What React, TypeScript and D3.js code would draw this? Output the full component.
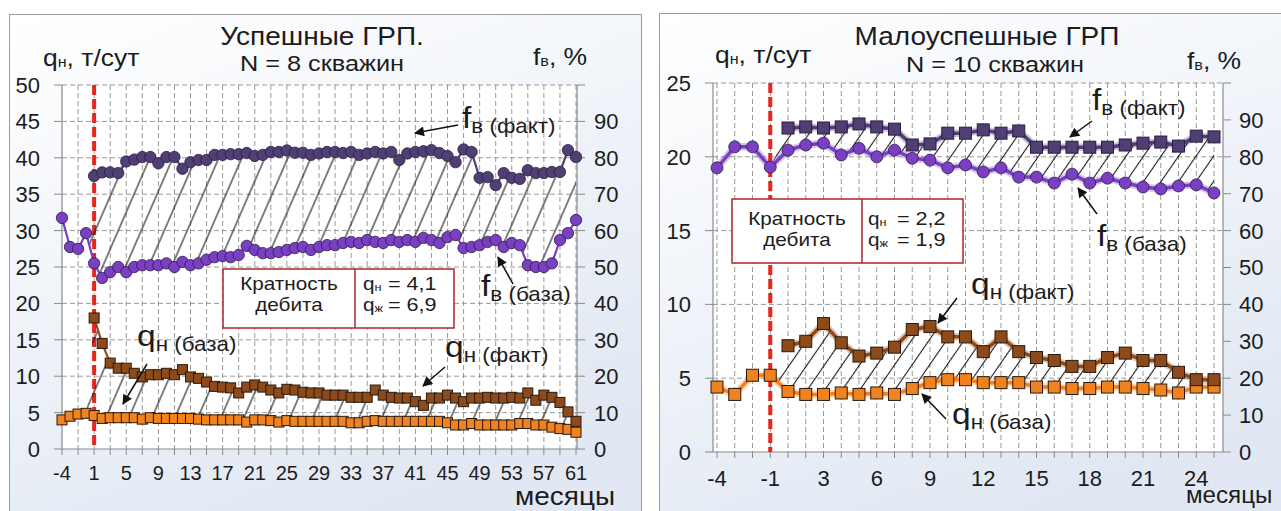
import React from "react";
import * as d3 from "d3";

const FONT = "Arial, 'Liberation Sans', sans-serif";

// ---------- Left chart: "Успешные ГРП." ----------
const L_MONTHS = [-4, -3, -2, -1, 1, 2, 3, 4, 5, 6, 7, 8, 9, 10, 11, 12, 13, 14, 15, 16, 17, 18, 19, 20, 21, 22, 23, 24, 25, 26, 27, 28, 29, 30, 31, 32, 33, 34, 35, 36, 37, 38, 39, 40, 41, 42, 43, 44, 45, 46, 47, 48, 49, 50, 51, 52, 53, 54, 55, 56, 57, 58, 59, 60, 61];
const L_TICKS = [-4, 1, 5, 9, 13, 17, 21, 25, 29, 33, 37, 41, 45, 49, 53, 57, 61];
const L_Y_LEFT = [0, 5, 10, 15, 20, 25, 30, 35, 40, 45, 50];
const L_Y_RIGHT = [0, 10, 20, 30, 40, 50, 60, 70, 80, 90];
const L_Q_BASE = [
  4.0, 4.5, 4.8, 4.9, 4.6, 4.2, 4.3, 4.3, 4.3, 4.3,
  4.1, 4.3, 4.2, 4.2, 4.2, 4.2, 4.2, 4.1, 4.0, 4.0,
  4.0, 4.0, 4.0, 3.7, 4.0, 4.0, 3.9, 3.7, 3.9, 3.8,
  3.8, 3.8, 3.8, 3.8, 3.8, 3.8, 3.6, 3.6, 3.8, 3.9,
  3.8, 3.8, 3.8, 3.8, 3.8, 3.8, 3.8, 3.8, 3.6, 3.3,
  3.3, 3.5, 3.3, 3.3, 3.3, 3.3, 3.3, 3.5, 3.5, 3.3,
  3.3, 3.0, 2.8, 2.7, 2.3,
];
const L_Q_FACT = [
  null, null, null, null,
  18.0, 14.5, 11.8, 11.1, 11.1, 10.4, 9.9, 10.2, 10.2, 10.4,
  10.2, 10.9, 9.9, 9.7, 9.2, 8.6, 8.5, 8.4, 7.7, 8.5,
  8.8, 8.5, 8.1, 7.7, 8.2, 8.1, 7.8, 7.7, 7.7, 7.4,
  7.4, 7.4, 7.1, 7.1, 7.1, 8.1, 7.4, 7.1, 7.0, 7.0,
  6.5, 6.0, 7.0, 7.0, 7.4, 7.0, 6.5, 7.0, 7.0, 7.1,
  7.0, 7.0, 7.1, 7.0, 7.7, 6.7, 7.4, 7.1, 6.4, 5.1, 3.8,
];
const L_F_BASE = [
  63.5, 55.5, 55, 59.3, 51, 47, 48.6, 50, 48.6, 50,
  50.5, 50.5, 50.5, 51, 50, 51.4, 50.5, 51, 52, 52.7,
  53, 52.7, 53.3, 55.8, 54.7, 53.8, 53.8, 54.1, 54.7, 55.2,
  55.5, 54.7, 55.5, 56, 56, 56.6, 56.9, 56.6, 57.4, 56.9,
  56.6, 57.4, 56.9, 57.4, 56.9, 58, 57.4, 56.6, 58.2, 58.8,
  55.2, 55.5, 56, 56.9, 57.4, 55.5, 56.6, 56, 50.5, 50,
  50, 51, 57.4, 59.3, 62.9,
];
const L_F_FACT = [
  null, null, null, null,
  75, 76, 76, 75.8, 79, 79.5, 80.2, 80.2, 78.5, 80.2,
  80.2, 77, 78.8, 79.4, 79.4, 80.8, 80.8, 81, 81, 81.3,
  80.5, 80.8, 81.6, 81.6, 82, 81.4, 81.4, 80.8, 81.2, 81.6,
  81.6, 81.3, 81.6, 80.8, 81.2, 81.6, 81.2, 81.6, 79.4, 81.2,
  81.6, 81.8, 82.1, 81.3, 80.5, 78.8, 82.3, 81.6, 74.5, 74.7,
  72.5, 75.8, 74.5, 74.2, 76.6, 75.8, 75.8, 76.1, 76.1, 82.1, 80.2,
];

// ---------- Right chart: "Малоуспешные ГРП" ----------
const R_MONTHS = [-4, -3, -2, -1, 1, 2, 3, 4, 5, 6, 7, 8, 9, 10, 11, 12, 13, 14, 15, 16, 17, 18, 19, 20, 21, 22, 23, 24, 25];
const R_TICKS = [-4, -1, 3, 6, 9, 12, 15, 18, 21, 24];
const R_Y_LEFT = [0, 5, 10, 15, 20, 25];
const R_Y_RIGHT = [0, 10, 20, 30, 40, 50, 60, 70, 80, 90];
const R_Q_BASE = [
  4.4, 3.9, 5.2, 5.2, 4.1, 3.9, 3.9, 4.0, 3.9, 4.0,
  3.9, 4.3, 4.7, 4.9, 4.9, 4.7, 4.7, 4.7, 4.4, 4.4,
  4.3, 4.3, 4.4, 4.4, 4.3, 4.2, 4.0, 4.4, 4.4,
];
const R_Q_FACT = [
  null, null, null, null,
  7.2, 7.5, 8.7, 7.4, 6.5, 6.7, 7.1, 8.3, 8.5, 7.8,
  7.8, 6.8, 7.8, 6.8, 6.4, 6.2, 5.8, 5.8, 6.4, 6.7,
  6.2, 6.2, 5.4, 4.9, 4.9,
];
const R_F_BASE = [
  77, 82.7, 82.7, 77.2, 81.8, 83.2, 83.7, 80.5, 82.3, 80,
  81.8, 79.6, 79.1, 77, 77.8, 75.9, 77, 74.5, 74.5, 72.9,
  75.3, 72.9, 74.2, 72.9, 71.8, 71.3, 72.1, 72.4, 70.2,
];
const R_F_FACT = [
  null, null, null, null,
  87.8, 88.1, 87.8, 88.1, 88.9, 88.1, 87.5, 83.2, 83.5, 86.4,
  86.4, 87.3, 86.4, 87, 82.6, 82.6, 82.6, 82.6, 82.6, 83.2,
  83.7, 84, 82.9, 85.6, 85.4,
];

const C = {
  qBase: "#f0831f",
  qFact: "#8d4a1b",
  fBase: "#7a3fc3",
  fFact: "#4f3f73",
  qStroke: "#2a1a0c",
  fStroke: "#2a1d46",
  grid: "#8f8f8f",
  axis: "#8a8a8a",
  red: "#e8241c",
  text: "#1c1c1c",
  box: "#a8292e",
};

type Num = number | null;

function T(props: {
  x: number; y: number; size: number; sx?: number; anchor?: string; children: any; fill?: string;
}) {
  const { x, y, size, sx = 1, anchor = "start", children, fill = C.text } = props;
  return (
    <text
      transform={`translate(${x},${y}) scale(${sx},1)`}
      fontFamily={FONT}
      fontSize={size}
      textAnchor={anchor as any}
      fill={fill}
    >
      {children}
    </text>
  );
}

function SubLabel(props: { x: number; y: number; big: string; sub: string; bigSize?: number; subSize?: number; dy?: number; sx?: number }) {
  const { x, y, big, sub, bigSize = 30, subSize = 20, dy = 5, sx = 1.12 } = props;
  return (
    <T x={x} y={y} size={bigSize} sx={sx}>
      {big}
      <tspan fontSize={subSize} dy={dy}>{sub}</tspan>
    </T>
  );
}

function Arrow(props: { x1: number; y1: number; x2: number; y2: number }) {
  const { x1, y1, x2, y2 } = props;
  return <line x1={x1} y1={y1} x2={x2} y2={y2} stroke="#111" strokeWidth={1.5} markerEnd="url(#arr)" />;
}

type Cfg = {
  id: string;
  plot: { l: number; r: number; t: number; b: number };
  xr: [number, number];
  months: number[];
  ticks: number[];
  gridStep: number;
  yLMax: number;
  yLTicks: number[];
  yRTicks: number[];
  redMonth: number;
  qBase: Num[];
  qFact: Num[];
  fBase: Num[];
  fFact: Num[];
  hatchH: number;
  hatchSlope: number;
  lw: number;
  sq: number;
  cr: number;
  fFactShape: "circle" | "square";
  glow: boolean;
  yLabelX: number;
  yRLabelX: number;
  xLabelY: number;
  xLabelSize: number;
  yLabelSize: number;
};

function Chart({ cfg }: { cfg: Cfg }) {
  const n = cfg.months.length;
  const idx = d3.range(n);
  const x = d3.scalePoint<number>().domain(idx).range(cfg.xr);
  const yL = d3.scaleLinear().domain([0, cfg.yLMax]).range([cfg.plot.b, cfg.plot.t]);
  const yR = d3.scaleLinear().domain([0, 100]).range([cfg.plot.b, cfg.plot.t]);
  const { l, r, t, b } = cfg.plot;

  const start = cfg.fFact.findIndex((v) => v != null) - 1;
  const aIdx = idx.filter((i) => i >= start);
  const areaF = d3
    .area<number>()
    .x((i) => x(i)!)
    .y0((i) => yR(cfg.fBase[i] as number))
    .y1((i) => yR((cfg.fFact[i] ?? cfg.fBase[i]) as number));
  const qStart = cfg.qFact.findIndex((v) => v != null) - 1;
  const qIdx = idx.filter((i) => i >= qStart);
  const areaQ = d3
    .area<number>()
    .x((i) => x(i)!)
    .y0((i) => yL(cfg.qBase[i] as number))
    .y1((i) => yL((cfg.qFact[i] ?? cfg.qBase[i]) as number));

  const mkLine = (arr: Num[], sc: d3.ScaleLinear<number, number>) =>
    d3
      .line<number>()
      .defined((i) => arr[i] != null)
      .x((i) => x(i)!)
      .y((i) => sc(arr[i] as number))(idx) || "";

  const phi = (Math.atan(1 / cfg.hatchSlope) * 180) / Math.PI;
  const dPer = (cfg.hatchH * cfg.hatchSlope) / Math.sqrt(1 + cfg.hatchSlope * cfg.hatchSlope);
  const hatchId = `hatch-${cfg.id}`;

  const vGrid = idx.filter((i) => i % cfg.gridStep === 0);
  const redI = cfg.months.indexOf(cfg.redMonth);

  const series = [
    { arr: cfg.qBase, sc: yL, color: C.qBase, stroke: C.qStroke, shape: "square" },
    { arr: cfg.qFact, sc: yL, color: C.qFact, stroke: C.qStroke, shape: "square" },
    { arr: cfg.fBase, sc: yR, color: C.fBase, stroke: C.fStroke, shape: "circle" },
    { arr: cfg.fFact, sc: yR, color: C.fFact, stroke: C.fStroke, shape: cfg.fFactShape },
  ];

  return (
    <g>
      <defs>
        <pattern
          id={hatchId}
          patternUnits="userSpaceOnUse"
          width={dPer}
          height={20}
          patternTransform={`rotate(${phi})`}
        >
          <line x1={dPer / 2} y1={-2} x2={dPer / 2} y2={22} stroke="#1a1a1a" strokeWidth={1.1} />
        </pattern>
      </defs>
      <rect x={l} y={t} width={r - l} height={b - t} fill="#ffffff" />
      {/* horizontal grid */}
      {cfg.yLTicks.filter((v) => v > 0).map((v) => (
        <line key={`hg${v}`} x1={l} x2={r} y1={yL(v)} y2={yL(v)} stroke={C.grid} strokeWidth={0.9} strokeDasharray="5 3" />
      ))}
      {/* vertical grid */}
      {vGrid.map((i) =>
        Math.abs(x(i)! - l) < 2 ? null : (
          <line key={`vg${i}`} x1={x(i)} x2={x(i)} y1={t} y2={b} stroke={C.grid} strokeWidth={0.9} strokeDasharray="5 3" />
        )
      )}
      {/* axes */}
      <line x1={l} x2={l} y1={t} y2={b} stroke={C.axis} strokeWidth={1.2} />
      <line x1={r} x2={r} y1={t} y2={b} stroke={C.axis} strokeWidth={1.2} />
      <line x1={l} x2={r} y1={b} y2={b} stroke={C.axis} strokeWidth={1.2} />
      {cfg.yLTicks.map((v) => (
        <line key={`lt${v}`} x1={l - 8} x2={l} y1={yL(v)} y2={yL(v)} stroke={C.axis} strokeWidth={1} />
      ))}
      {[...cfg.yRTicks, 100].map((v) => (
        <line key={`rt${v}`} x1={r} x2={r + 8} y1={yR(v)} y2={yR(v)} stroke={C.axis} strokeWidth={1} />
      ))}
      {vGrid.map((i) => (
        <line key={`xt${i}`} x1={x(i)} x2={x(i)} y1={b} y2={b + 6} stroke={C.axis} strokeWidth={1} />
      ))}
      {/* tick labels */}
      {cfg.yLTicks.map((v) => (
        <T key={`ll${v}`} x={cfg.yLabelX} y={yL(v) + cfg.yLabelSize * 0.36} size={cfg.yLabelSize} anchor="end">
          {v}
        </T>
      ))}
      {cfg.yRTicks.map((v) => (
        <T key={`rl${v}`} x={cfg.yRLabelX} y={yR(v) + cfg.yLabelSize * 0.36} size={cfg.yLabelSize}>
          {v}
        </T>
      ))}
      {cfg.ticks.map((m) => (
        <T key={`xl${m}`} x={x(cfg.months.indexOf(m))!} y={cfg.xLabelY} size={cfg.xLabelSize} anchor="middle">
          {m}
        </T>
      ))}
      {/* red line */}
      <line x1={x(redI)} x2={x(redI)} y1={t} y2={b} stroke={C.red} strokeWidth={4} strokeDasharray="10 4" />
      {/* hatched areas */}
      <path d={areaQ(qIdx) || ""} fill={`url(#${hatchId})`} />
      <path d={areaF(aIdx) || ""} fill={`url(#${hatchId})`} />
      {/* series */}
      {series.map((s, k) => {
        const d = mkLine(s.arr, s.sc);
        return (
          <g key={`s${k}`}>
            {cfg.glow && <path d={d} fill="none" stroke={s.color} strokeWidth={cfg.lw + 4} strokeOpacity={0.3} strokeLinejoin="round" />}
            <path d={d} fill="none" stroke={s.color} strokeWidth={cfg.lw} strokeLinejoin="round" />
            {idx
              .filter((i) => s.arr[i] != null)
              .map((i) => {
                const px = x(i)!;
                const py = s.sc(s.arr[i] as number);
                return s.shape === "square" ? (
                  <rect key={i} x={px - cfg.sq / 2} y={py - cfg.sq / 2} width={cfg.sq} height={cfg.sq} fill={s.color} stroke={s.stroke} strokeWidth={1} />
                ) : (
                  <circle key={i} cx={px} cy={py} r={cfg.cr} fill={s.color} stroke={s.stroke} strokeWidth={0.8} />
                );
              })}
          </g>
        );
      })}
    </g>
  );
}

const LEFT: Cfg = {
  id: "L",
  plot: { l: 62, r: 577, t: 85, b: 449 },
  xr: [62, 576],
  months: L_MONTHS,
  ticks: L_TICKS,
  gridStep: 2,
  yLMax: 50,
  yLTicks: L_Y_LEFT,
  yRTicks: L_Y_RIGHT,
  redMonth: 1,
  qBase: L_Q_BASE,
  qFact: L_Q_FACT,
  fBase: L_F_BASE,
  fFact: L_F_FACT,
  hatchH: 23,
  hatchSlope: 2.3,
  lw: 2.2,
  sq: 10,
  cr: 5.7,
  fFactShape: "circle",
  glow: false,
  yLabelX: 40,
  yRLabelX: 594,
  xLabelY: 480,
  xLabelSize: 20,
  yLabelSize: 22,
};

const RIGHT: Cfg = {
  id: "R",
  plot: { l: 713, r: 1223, t: 83, b: 452 },
  xr: [717, 1214],
  months: R_MONTHS,
  ticks: R_TICKS,
  gridStep: 1,
  yLMax: 25,
  yLTicks: R_Y_LEFT,
  yRTicks: R_Y_RIGHT,
  redMonth: -1,
  qBase: R_Q_BASE,
  qFact: R_Q_FACT,
  fBase: R_F_BASE,
  fFact: R_F_FACT,
  hatchH: 17.5,
  hatchSlope: 1.45,
  lw: 3.5,
  sq: 12,
  cr: 6,
  fFactShape: "square",
  glow: true,
  yLabelX: 691,
  yRLabelX: 1239,
  xLabelY: 486,
  xLabelSize: 22,
  yLabelSize: 22,
};

function Box(props: { x0: number; y0: number; x1: number; y1: number; xd: number; qn: string; qz: string; yA: number; yB: number; qx: number; vx: number }) {
  const { x0, y0, x1, y1, xd, qn, qz, yA, yB, qx, vx } = props;
  const cx = (x0 + xd) / 2;
  return (
    <g>
      <rect x={x0} y={y0} width={x1 - x0} height={y1 - y0} fill="#ffffff" stroke={C.box} strokeWidth={1.5} />
      <line x1={xd} x2={xd} y1={y0} y2={y1} stroke={C.box} strokeWidth={1.5} />
      <T x={cx} y={yA} size={18} sx={1.15} anchor="middle">Кратность</T>
      <T x={cx} y={yB} size={18} sx={1.15} anchor="middle">дебита</T>
      <T x={qx} y={yA} size={18} sx={1.15}>q<tspan fontSize={11} dy={1}>н</tspan></T>
      <T x={qx} y={yB} size={18} sx={1.15}>q<tspan fontSize={11} dy={1}>ж</tspan></T>
      <T x={vx} y={yA} size={18} sx={1.2}>{`= ${qn}`}</T>
      <T x={vx} y={yB} size={18} sx={1.2}>{`= ${qz}`}</T>
    </g>
  );
}

export default function App() {
  return (
    <svg
      width={1281}
      height={511}
      style={{ position: "absolute", left: 0, top: 0, display: "block" }}
    >
      <defs>
        <linearGradient id="panelBg" x1="0" y1="0" x2="0.45" y2="1">
          <stop offset="0" stopColor="#ffffff" />
          <stop offset="1" stopColor="#e1e8f3" />
        </linearGradient>
        <marker id="arr" viewBox="0 0 10 10" refX="9" refY="5" markerWidth="13" markerHeight="10" markerUnits="userSpaceOnUse" orient="auto">
          <path d="M0,0 L10,5 L0,10 z" fill="#111" />
        </marker>
      </defs>
      <rect x={0} y={0} width={1281} height={511} fill="#ffffff" />
      <rect x={9.5} y={14.5} width={632} height={520} fill="url(#panelBg)" stroke="#9c9c9c" strokeWidth={1} />
      <rect x={659.5} y={13.5} width={640} height={520} fill="url(#panelBg)" stroke="#9c9c9c" strokeWidth={1} />

      {/* Left chart */}
      <Chart cfg={LEFT} />
      <T x={322} y={45} size={25} sx={1.12} anchor="middle">Успешные  ГРП.</T>
      <T x={322} y={71} size={22} sx={1.15} anchor="middle">N = 8 скважин</T>
      <T x={43} y={66} size={23} sx={1.15}>q<tspan fontSize={14} dy={1}>н</tspan><tspan dy={-1}>, т/сут</tspan></T>
      <T x={533} y={65} size={23} sx={1.15}>f<tspan fontSize={14} dy={1}>в</tspan><tspan dy={-1}>, %</tspan></T>
      <SubLabel x={462} y={128} big="f" sub="в (факт)" />
      <Arrow x1={458} y1={125} x2={415} y2={133} />
      <SubLabel x={481} y={296} big="f" sub="в (база)" />
      <Arrow x1={513} y1={284} x2={498} y2={257} />
      <SubLabel x={137} y={346} big="q" sub="н (база)" />
      <Arrow x1={147} y1={364} x2={123} y2={404} />
      <SubLabel x={445} y={357} big="q" sub="н (факт)" />
      <Arrow x1={445} y1={367} x2={423} y2={386} />
      <Box x0={223} y0={269} x1={454} y1={328} xd={355} qn="4,1" qz="6,9" yA={290} yB={311} qx={363} vx={388} />
      <T x={515} y={505} size={25} sx={1.12}>месяцы</T>

      {/* Right chart */}
      <Chart cfg={RIGHT} />
      <T x={987} y={45} size={25} sx={1.12} anchor="middle">Малоуспешные  ГРП</T>
      <T x={995} y={72} size={22} sx={1.15} anchor="middle">N = 10 скважин</T>
      <T x={715} y={63} size={23} sx={1.15}>q<tspan fontSize={14} dy={1}>н</tspan><tspan dy={-1}>, т/сут</tspan></T>
      <T x={1187} y={69} size={23} sx={1.15}>f<tspan fontSize={14} dy={1}>в</tspan><tspan dy={-1}>, %</tspan></T>
      <SubLabel x={1092} y={110} big="f" sub="в (факт)" />
      <Arrow x1={1092} y1={121} x2={1070} y2={137} />
      <SubLabel x={1097} y={246} big="f" sub="в (база)" />
      <Arrow x1={1097} y1={214} x2={1078} y2={188} />
      <SubLabel x={971} y={294} big="q" sub="н (факт)" />
      <Arrow x1={957} y1={298} x2={938} y2={323} />
      <SubLabel x={952} y={424} big="q" sub="н (база)" />
      <Arrow x1={946} y1={419} x2={922} y2={394} />
      <Box x0={732} y0={199} x1={963} y1={263} xd={862} qn="2,2" qz="1,9" yA={225} yB={246} qx={868} vx={897} />
      <T x={1186} y={503} size={23} sx={1.05}>месяцы</T>
    </svg>
  );
}
